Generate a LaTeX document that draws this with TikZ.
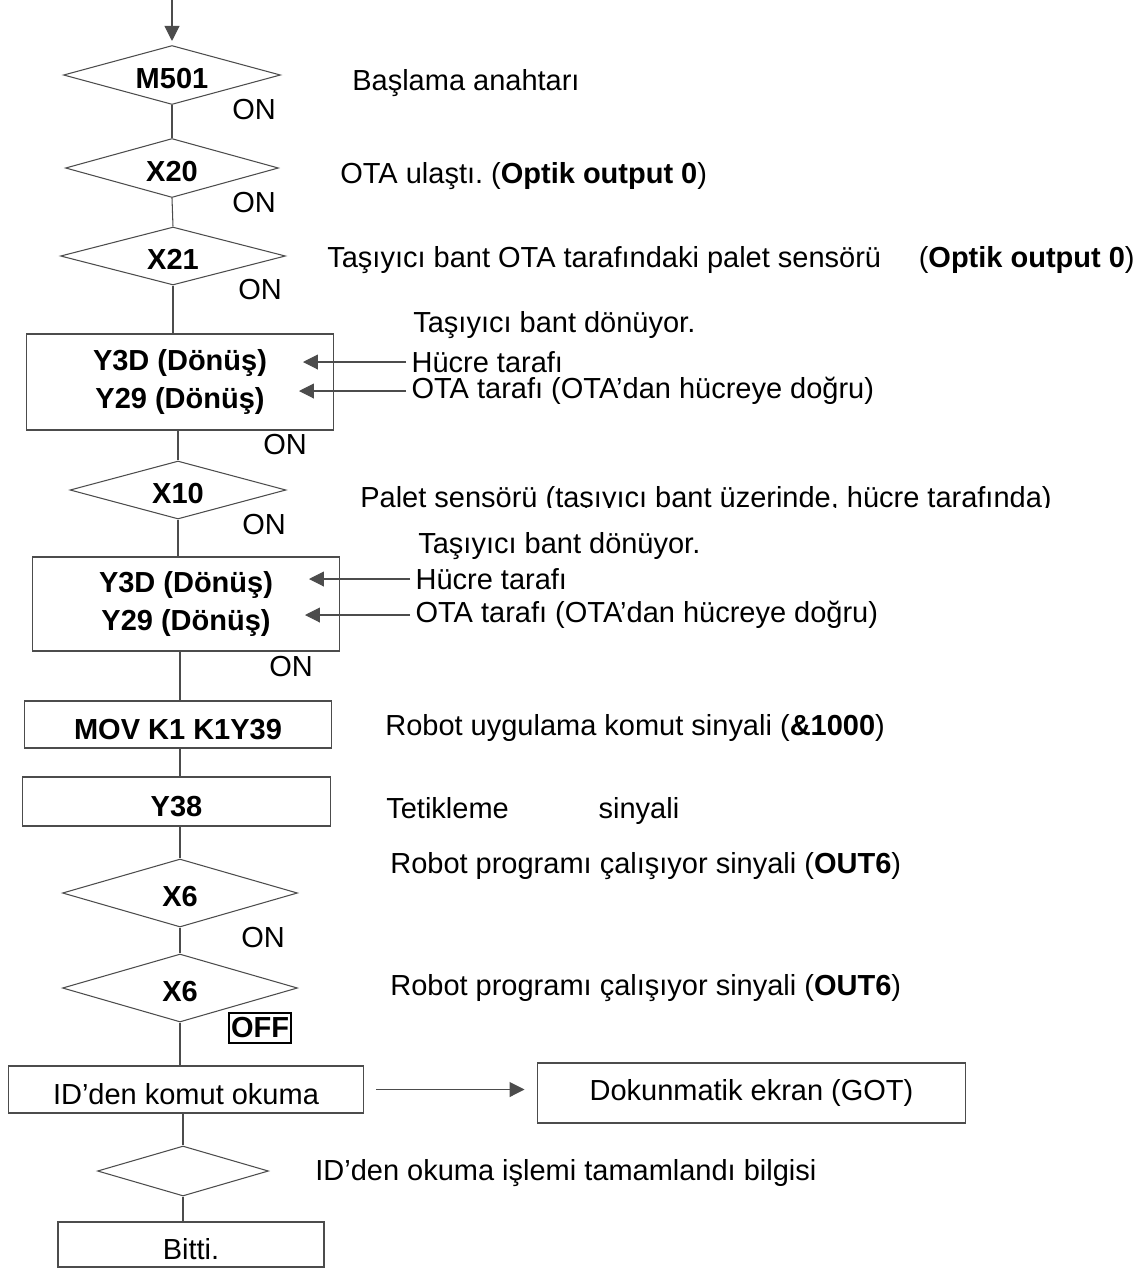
\documentclass[tikz,border=0pt]{standalone}
\usepackage{fontspec}
\setmainfont{Liberation Sans}
\frenchspacing
\usetikzlibrary{shapes.geometric, positioning, calc, arrows.meta}

\tikzset{
    txt/.style={font=\fontsize{16.5}{22}\selectfont, inner sep=0pt},
    cond/.style={diamond, draw=black!70, line width=0.6pt, aspect=3.7, inner sep=0pt, text height=15pt, text depth=0pt, font=\fontsize{16.5}{22}\selectfont\bfseries},
    blk/.style={rectangle, draw=black!70, line width=0.6pt, inner sep=0pt, align=center, font=\fontsize{16.5}{22}\selectfont},
    lowtxt/.style={text height=17pt, text depth=0pt},
    dsc/.style={txt, anchor=mid west},
    lbl/.style={txt, anchor=west, inner xsep=3pt},
    flow/.style={draw=black!70, line width=0.6pt},
}

\begin{document}
\begin{tikzpicture}[x=0.02cm, y=-0.02cm, >={Triangle[length=0.3cm, width=0.3cm]}]

    \useasboundingbox (0,0) rectangle (1145,1269);

    % --- Conditions and steps ---
    \node[cond, minimum width=4.34cm, minimum height=1.18cm] (m501) at (172,75) {M501};
    \node[cond, minimum width=4.26cm, minimum height=1.18cm] (x20) at (172,168) {X20};
    \node[cond, minimum width=4.5cm, minimum height=1.16cm] (x21) at (173,256) {X21};
    \node[blk, minimum width=6.16cm, minimum height=1.92cm, font=\fontsize{16.5}{22}\selectfont\bfseries] (yb1) at (180,382) {Y3D (Dönüş)\\Y29 (Dönüş)};
    \node[cond, minimum width=4.32cm, minimum height=1.16cm] (x10) at (178,490) {X10};
    \node[blk, minimum width=6.16cm, minimum height=1.88cm, font=\fontsize{16.5}{22}\selectfont\bfseries] (yb2) at (186,604) {Y3D (Dönüş)\\Y29 (Dönüş)};
    \node[blk, lowtxt, minimum width=6.16cm, minimum height=0.94cm, font=\fontsize{16.5}{22}\selectfont\bfseries] (mov) at (178,724.5) {MOV K1 K1Y39};
    \node[blk, lowtxt, minimum width=6.18cm, minimum height=0.98cm, font=\fontsize{16.5}{22}\selectfont\bfseries] (y38) at (176.5,801.5) {Y38};
    \node[cond, minimum width=4.7cm, minimum height=1.36cm] (x6a) at (180,893) {X6};
    \node[cond, minimum width=4.7cm, minimum height=1.36cm] (x6b) at (180,988) {X6};
    \node[blk, lowtxt, minimum width=7.12cm, minimum height=0.94cm] (idr) at (186,1089.5) {ID’den komut okuma};
    \node[blk, minimum width=8.58cm, minimum height=1.2cm] (got) at (751.5,1093) {Dokunmatik ekran (GOT)};
    \node[cond, minimum width=3.42cm, minimum height=1.0cm] (idok) at (183,1171) {};
    \node[blk, lowtxt, minimum width=5.32cm, minimum height=0.9cm] (bitti) at (191,1244.5) {Bitti.};

    % --- ON / OFF marks ---
    \node[txt] (on1) at (254,110) {ON};
    \node[txt] (on2) at (254,203) {ON};
    \node[txt] (on3) at (260,290) {ON};
    \node[txt] (on4) at (285,445) {ON};
    \node[txt] (on5) at (264,525) {ON};
    \node[txt] (on6) at (291,667) {ON};
    \node[txt] (on7) at (263,938) {ON};
    \node[txt, draw, line width=1.2pt, inner xsep=1pt, inner ysep=2.5pt, font=\fontsize{16.5}{22}\selectfont\bfseries] (off) at (260,1028) {OFF};

    % --- Flow lines ---
    \coordinate (start) at (172,0);
    \draw[flow, ->, shorten >=0.08cm] (start) -- (m501.north);
    \draw[flow] (m501.south) -- (x20.north);
    \draw[flow] (x20.south) -- (x21.north);
    \draw[flow] (x21.south) -- (x21.south |- yb1.north);
    \draw[flow] (x10.north |- yb1.south) -- (x10.north);
    \draw[flow] (x10.south) -- (x10.south |- yb2.north);
    \draw[flow] (x6a.north |- yb2.south) -- (x6a.north |- mov.north);
    \draw[flow] (x6a.north |- mov.south) -- (x6a.north |- y38.north);
    \draw[flow] (x6a.north |- y38.south) -- (x6a.north);
    \draw[flow] (x6a.south) -- (x6b.north);
    \draw[flow] (x6b.south) -- (x6b.south |- idr.north);
    \draw[flow] (idok.north |- idr.south) -- (idok.north);
    \draw[flow] (idok.south) -- (idok.south |- bitti.north);
    \draw[flow, ->, shorten <=0.24cm, shorten >=0.24cm] (idr.east) -- (idr.east -| got.west);

    % --- Descriptions ---
    \node[dsc] (dsc1) at (352,86) {Başlama anahtarı};
    \node[dsc] (dsc2) at (340,179) {OTA ulaştı. (\textbf{Optik output 0})};
    \node[dsc] (dsc3) at (327,263) {Taşıyıcı bant OTA tarafındaki palet sensörü\hspace{1.3em}(\textbf{Optik output 0})};
    \node[dsc] (dsc4) at (413,328) {Taşıyıcı bant dönüyor.};
    \begin{scope}
        \clip (340,470) rectangle (1145,507.5);
        \node[txt, anchor=base west] (dsc5) at (360,507) {Palet sensörü (taşıyıcı bant üzerinde, hücre tarafında)};
    \end{scope}
    \node[dsc] (dsc6) at (418,549) {Taşıyıcı bant dönüyor.};
    \node[dsc] (dsc7) at (385,731) {Robot uygulama komut sinyali (\textbf{\&1000})};
    \node[dsc] (dsc8) at (386,814) {Tetikleme\hspace{3.1em}sinyali};
    \node[dsc] (dsc9) at (390,869) {Robot programı çalışıyor sinyali (\textbf{OUT6})};
    \node[dsc] (dsc10) at (390,991) {Robot programı çalışıyor sinyali (\textbf{OUT6})};
    \node[dsc] (dsc11) at (315,1176) {ID’den okuma işlemi tamamlandı bilgisi};

    % --- Side arrows into the belt boxes ---
    \node[lbl] (hcr1) at (406,362) {Hücre tarafı};
    \node[lbl] (ota1) at (406,391) {OTA tarafı (OTA’dan hücreye doğru)};
    \node[lbl] (hcr2) at (410,579) {Hücre tarafı};
    \node[lbl] (ota2) at (410,615) {OTA tarafı (OTA’dan hücreye doğru)};
    \coordinate (tip1) at (303,362);
    \coordinate (tip2) at (299,391);
    \coordinate (tip3) at (309,579);
    \coordinate (tip4) at (305,615);
    \draw[flow, ->] (hcr1.west) -- (hcr1.west -| tip1);
    \draw[flow, ->] (ota1.west) -- (ota1.west -| tip2);
    \draw[flow, ->] (hcr2.west) -- (hcr2.west -| tip3);
    \draw[flow, ->] (ota2.west) -- (ota2.west -| tip4);

\end{tikzpicture}
\end{document}
